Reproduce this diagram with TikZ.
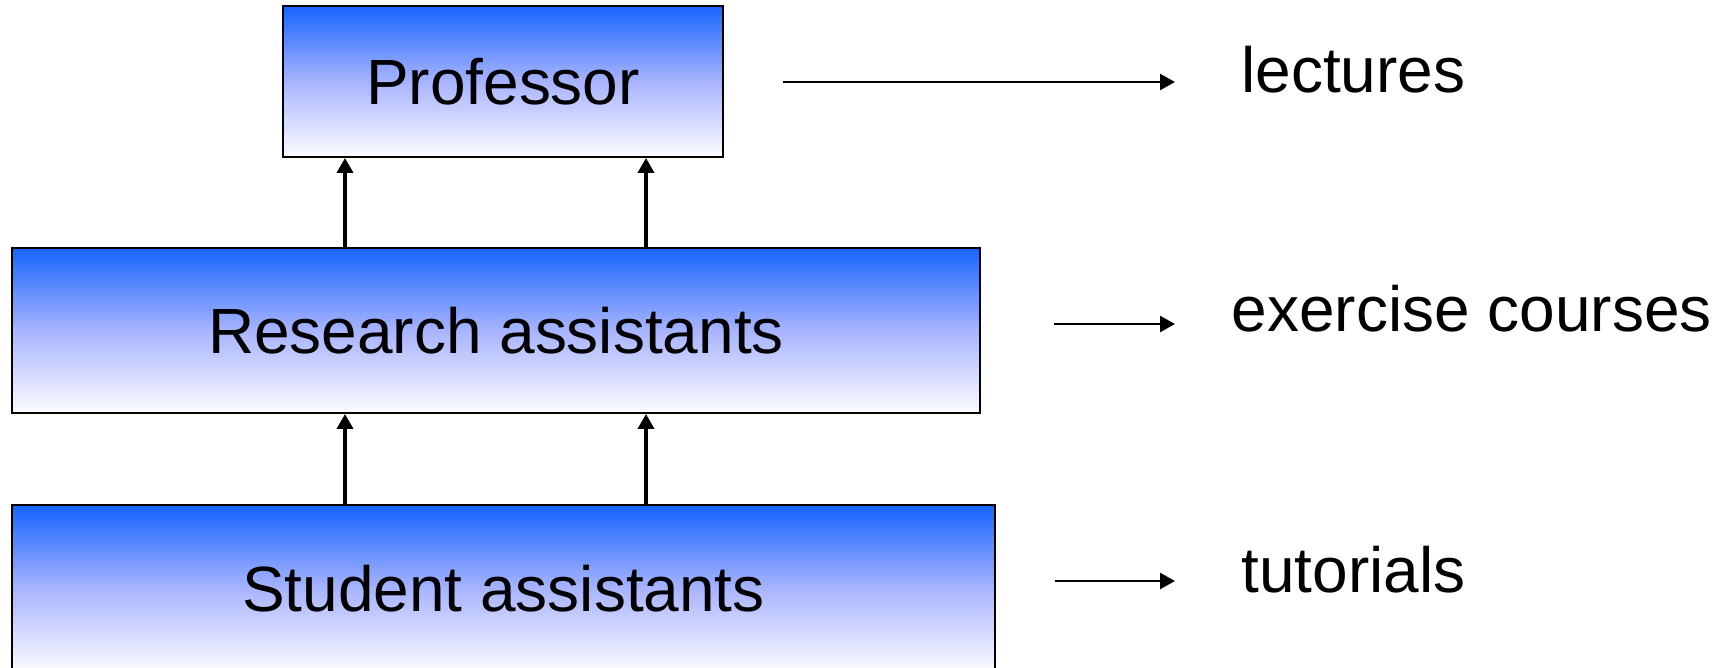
\documentclass[tikz,border=0pt]{standalone}
\usepackage{fontspec}
\setmainfont{Liberation Sans}
\usetikzlibrary{arrows.meta}
\definecolor{topblue}{RGB}{22,100,255}
\definecolor{midblue}{RGB}{168,180,255}
\definecolor{lowwhite}{RGB}{252,252,255}

\begin{document}
\begin{tikzpicture}[x=0.02cm,y=-0.02cm,
	staff/.style={rectangle,draw=black,line width=1.1pt,top color=topblue,bottom color=lowwhite,middle color=midblue,
		font=\fontsize{36.4}{44}\selectfont,text height=26pt,text depth=0pt,inner sep=0pt},
	duty/.style={anchor=base west,inner sep=0pt,font=\fontsize{36.4}{44}\selectfont},
	up/.style={-{Triangle[length=0.3cm,width=0.32cm]},line width=2.3pt},
	task/.style={-{Triangle[length=0.3cm,width=0.32cm]},line width=1.4pt}]
\useasboundingbox (0,0) rectangle (1724,667);
% boxes
\node [staff,minimum width=8.8cm,minimum height=3.02cm] (prof) at (503,81.5) {Professor};
\node [staff,minimum width=19.36cm,minimum height=3.3cm] (ra) at (496,330.5) {Research assistants};
\node [staff,minimum width=19.66cm,minimum height=3.34cm] (sa) at (503.5,588.5) {Student assistants};
% who reports to whom
\coordinate (lft) at (345,0);
\coordinate (rgt) at (646,0);
\draw [up] (ra.north -| lft) -- (prof.south -| lft);
\draw [up] (ra.north -| rgt) -- (prof.south -| rgt);
\draw [up] (sa.north -| lft) -- (ra.south -| lft);
\draw [up] (sa.north -| rgt) -- (ra.south -| rgt);
% what they teach
\node [duty] (lec) at (1241,92) {lectures};
\node [duty] (exc) at (1231.5,331.5) {exercise courses};
\node [duty] (tut) at (1241,592) {tutorials};
\coordinate (lec0) at (783,82);
\coordinate (lec1) at (1175,82);
\coordinate (exc0) at (1054,324);
\coordinate (exc1) at (1175,324);
\coordinate (tut0) at (1055,581);
\coordinate (tut1) at (1175,581);
\draw [task] (lec0) -- (lec1);
\draw [task] (exc0) -- (exc1);
\draw [task] (tut0) -- (tut1);
\end{tikzpicture}
\end{document}
